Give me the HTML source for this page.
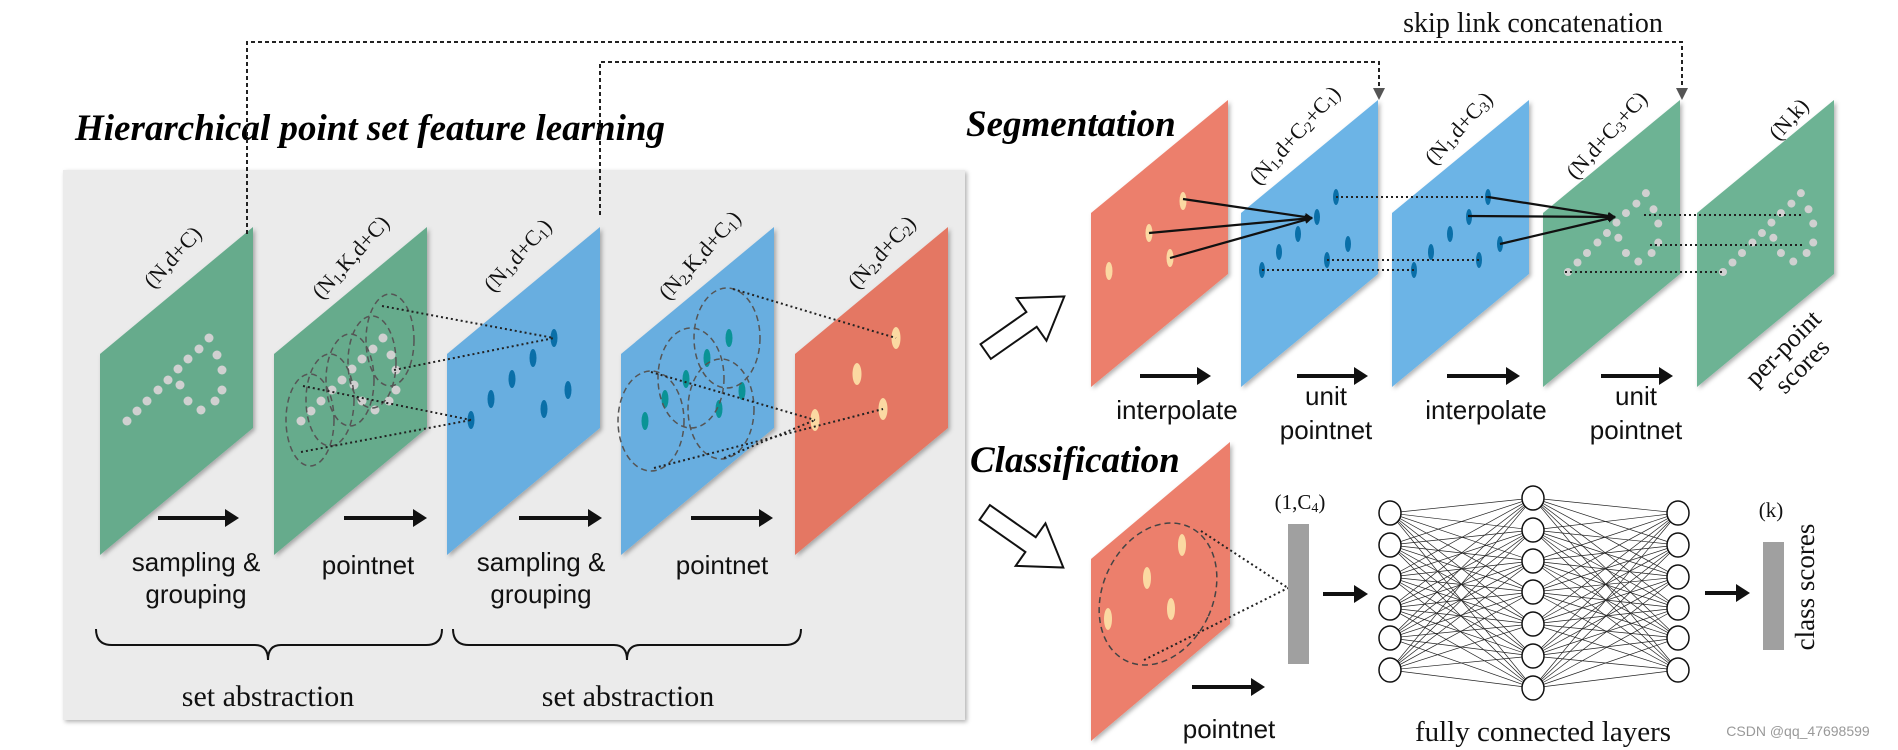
<!DOCTYPE html>
<html><head><meta charset="utf-8"><style>
html,body{margin:0;padding:0;background:#fff;width:1898px;height:750px;overflow:hidden}
svg{display:block}
.lab{font-family:"Liberation Serif",serif;font-size:22px;fill:#111}
.sans{font-family:"Liberation Sans",sans-serif;font-size:26px;fill:#111}
.ser{font-family:"Liberation Serif",serif;font-size:30px;fill:#111}
.ttl{font-family:"Liberation Serif",serif;font-size:37px;font-weight:bold;font-style:italic;fill:#000}
</style></head><body>
<svg id="s" width="1898" height="750" viewBox="0 0 1898 750" xmlns="http://www.w3.org/2000/svg">
<defs>
<marker id="ah" markerWidth="8" markerHeight="8" refX="7" refY="4" orient="auto" markerUnits="userSpaceOnUse"><path d="M0,0 L8,4 L0,8 z" fill="#111"/></marker>
<marker id="ad" markerWidth="12" markerHeight="12" refX="10" refY="6" orient="auto" markerUnits="userSpaceOnUse"><path d="M0,0 L12,6 L0,12 z" fill="#555"/></marker>
<filter id="sh"><feDropShadow dx="2" dy="2" stdDeviation="2" flood-opacity="0.3"/></filter>
</defs>
<rect x="63" y="170" width="902" height="550" fill="#ebebeb" filter="url(#sh)"/>
<text class="ttl" x="75" y="140">Hierarchical point set feature learning</text>
<text class="ttl" x="966" y="136">Segmentation</text>
<text class="ttl" x="970" y="472">Classification</text>
<g id="g"></g>
<polyline points="247,234 247,42 1682,42 1682,98" fill="none" stroke="#222" stroke-width="2" stroke-dasharray="4,3" marker-end="url(#ad)"/>
<polyline points="600,215 600,62 1379,62 1379,98" fill="none" stroke="#222" stroke-width="2" stroke-dasharray="4,3" marker-end="url(#ad)"/>
<text class="ser" x="1533" y="32" text-anchor="middle" style="font-size:28px">skip link concatenation</text>
<g class="lab">
<text transform="translate(178,262) rotate(-48)" text-anchor="middle">(N,d+C)</text>
<text transform="translate(356,262) rotate(-48)" text-anchor="middle">(N<tspan font-size="15" dy="3">1</tspan><tspan dy="-3">,K,d+C)</tspan></text>
<text transform="translate(523,260) rotate(-48)" text-anchor="middle">(N<tspan font-size="15" dy="3">1</tspan><tspan dy="-3">,d+C</tspan><tspan font-size="15" dy="3">1</tspan><tspan dy="-3">)</tspan></text>
<text transform="translate(705,260) rotate(-48)" text-anchor="middle">(N<tspan font-size="15" dy="3">2</tspan><tspan dy="-3">,K,d+C</tspan><tspan font-size="15" dy="3">1</tspan><tspan dy="-3">)</tspan></text>
<text transform="translate(887,257) rotate(-48)" text-anchor="middle">(N<tspan font-size="15" dy="3">2</tspan><tspan dy="-3">,d+C</tspan><tspan font-size="15" dy="3">2</tspan><tspan dy="-3">)</tspan></text>
<text transform="translate(1300,140) rotate(-48)" text-anchor="middle">(N<tspan font-size="15" dy="3">1</tspan><tspan dy="-3">,d+C</tspan><tspan font-size="15" dy="3">2</tspan><tspan dy="-3">+C</tspan><tspan font-size="15" dy="3">1</tspan><tspan dy="-3">)</tspan></text>
<text transform="translate(1464,133) rotate(-48)" text-anchor="middle">(N<tspan font-size="15" dy="3">1</tspan><tspan dy="-3">,d+C</tspan><tspan font-size="15" dy="3">3</tspan><tspan dy="-3">)</tspan></text>
<text transform="translate(1612,140) rotate(-48)" text-anchor="middle">(N,d+C<tspan font-size="15" dy="3">3</tspan><tspan dy="-3">+C)</tspan></text>
<text transform="translate(1794,124) rotate(-48)" text-anchor="middle">(N,k)</text>
</g>
<g class="sans" text-anchor="middle">
<text x="196" y="571">sampling &amp;</text><text x="196" y="603">grouping</text>
<text x="368" y="574">pointnet</text>
<text x="541" y="571">sampling &amp;</text><text x="541" y="603">grouping</text>
<text x="722" y="574">pointnet</text>
<text x="1177" y="419">interpolate</text>
<text x="1326" y="405">unit</text><text x="1326" y="439">pointnet</text>
<text x="1486" y="419">interpolate</text>
<text x="1636" y="405">unit</text><text x="1636" y="439">pointnet</text>
<text x="1229" y="738">pointnet</text>
</g>
<g class="ser" text-anchor="middle">
<text x="268" y="706">set abstraction</text>
<text x="628" y="706">set abstraction</text>
<text x="1543" y="741" style="font-size:29px">fully connected layers</text>
<text transform="translate(1789,354) rotate(-45)" style="font-size:26px">per-point</text>
<text transform="translate(1808,372) rotate(-45)" style="font-size:26px">scores</text>
<text transform="translate(1814,587) rotate(-90)" style="font-size:27px">class scores</text>
<text x="1300" y="509" style="font-size:21px">(1,C<tspan font-size="14" dy="3">4</tspan><tspan dy="-3">)</tspan></text>
<text x="1771" y="517" style="font-size:21px">(k)</text>
</g>
<text x="1798" y="736" text-anchor="middle" style="font-family:'Liberation Sans',sans-serif;font-size:14px;fill:#999">CSDN @qq_47698599</text>
<path d="M96,629 Q96,645 112,645 L255,645 Q268,645 268,660 Q268,645 281,645 L426,645 Q442,645 442,629" fill="none" stroke="#111" stroke-width="2"/>
<path d="M453,629 Q453,645 469,645 L614,645 Q627,645 627,660 Q627,645 640,645 L785,645 Q801,645 801,629" fill="none" stroke="#111" stroke-width="2"/>
</svg>
<script>
const g=document.getElementById('g');const NS='http://www.w3.org/2000/svg';
function el(t,a){const e=document.createElementNS(NS,t);for(const k in a)e.setAttribute(k,a[k]);g.appendChild(e);return e;}
function plane(x,w,skew,yt,h,c){el('polygon',{points:`${x},${yt+skew} ${x+w},${yt} ${x+w},${yt+h} ${x},${yt+skew+h}`,fill:c,filter:'url(#sh)'});}
function arrow(x1,x2,y){el('line',{x1:x1,y1:y,x2:x2-12,y2:y,stroke:'#111','stroke-width':4});el('polygon',{points:`${x2-14},${y-9} ${x2},${y} ${x2-14},${y+9}`,fill:'#111'});}
const G='#66ab8c',B='#68aee0',R='#e47763';
[[100,G],[274,G],[447,B],[621,B],[795,R]].forEach(([x,c])=>plane(x,153,127,227,201,c));
const pat=[[127,421],[137,411],[147,401],[158,390],[168,380],[178,369],[188,359],[199,349],[209,338],[217,355],[222,370],[222,390],[215,401],[201,410],[188,401],[180,385]];
pat.forEach(([x,y])=>{el('ellipse',{cx:x,cy:y,rx:4.5,ry:4.5,fill:'#d0d0d0'});el('ellipse',{cx:x+174,cy:y,rx:4.5,ry:4.5,fill:'#d0d0d0'});});
[[310,420],[330,400],[350,380],[372,362],[390,340]].forEach(([x,y])=>el('ellipse',{cx:x,cy:y,rx:24,ry:46,fill:'none',stroke:'#555','stroke-width':1.5,'stroke-dasharray':'6,4'}));
const p3=[[554,338],[533,358],[512,379],[491,399],[471,420],[568,390],[544,409]];
p3.forEach(([x,y])=>el('ellipse',{cx:x,cy:y,rx:3.5,ry:9,fill:'#0a6fa8'}));
const p4=[[729,338],[707,358],[686,379],[665,399],[645,421],[742,391],[719,409]];
p4.forEach(([x,y])=>el('ellipse',{cx:x,cy:y,rx:3.5,ry:9,fill:'#0a9396'}));
[[727,338],[691,378],[651,421],[721,409]].forEach(([x,y])=>el('ellipse',{cx:x,cy:y,rx:33,ry:50,fill:'none',stroke:'#555','stroke-width':1.5,'stroke-dasharray':'6,4'}));
const p5=[[896,338],[857,374],[883,409],[815,420]];
p5.forEach(([x,y])=>el('ellipse',{cx:x,cy:y,rx:4.5,ry:11,fill:'#fbd9a2'}));
const dl=(a,b,c,d)=>el('line',{x1:a,y1:b,x2:c,y2:d,stroke:'#222','stroke-width':2,'stroke-dasharray':'2,3'});
dl(382,306,554,338);dl(394,370,554,338);dl(303,386,471,420);dl(301,452,471,420);
dl(733,289,896,338);dl(651,372,815,420);dl(654,468,883,409);dl(724,458,815,420);
arrow(158,239,518);arrow(344,427,518);arrow(519,602,518);arrow(691,773,518);
const sr='#ec7f6c',sb='#6cb4e6',sg='#6db394';
[[1091,sr],[1241,sb],[1392,sb],[1543,sg],[1697,sg]].forEach(([x,c])=>plane(x,137,113,100,174,c));
[[1183,201],[1149,233],[1170,258],[1109,271]].forEach(([x,y])=>el('ellipse',{cx:x,cy:y,rx:3.5,ry:9,fill:'#fbd9a2'}));
const b1=[[1336,197],[1317,217],[1298,234],[1279,252],[1348,244],[1327,260],[1262,270]];
b1.forEach(([x,y])=>{el('ellipse',{cx:x,cy:y,rx:3,ry:8,fill:'#0a6fa8'});el('ellipse',{cx:x+152,cy:y,rx:3,ry:8,fill:'#0a6fa8'});});
dl(1336,197,1488,197);dl(1327,260,1479,260);dl(1262,270,1414,270);
pat.forEach(([x,y])=>{const X=1568+(x-127)*0.95,Y=272+(y-421)*0.95;el('circle',{cx:X,cy:Y,r:4,fill:'#d0d0d0'});el('circle',{cx:X+155,cy:Y,r:4,fill:'#d0d0d0'});});
dl(1644,215,1804,215);dl(1650,245,1804,245);dl(1565,272,1723,272);
const sl=(a,b,c,d)=>el('line',{x1:a,y1:b,x2:c,y2:d,stroke:'#111','stroke-width':2.2,'marker-end':'url(#ah)'});
sl(1183,199,1312,218);sl(1149,233,1312,218);sl(1170,258,1312,218);
sl(1488,197,1615,217);sl(1468,216,1615,217);sl(1500,244,1615,217);
arrow(1140,1211,376);arrow(1297,1368,376);arrow(1447,1520,376);arrow(1601,1673,376);
function hollow(cx,cy,ang){el('polygon',{points:'-48,-9 8,-9 8,-26 48,0 8,26 8,9 -48,9',fill:'#fff',stroke:'#111','stroke-width':2,transform:`translate(${cx},${cy}) rotate(${ang})`});}
hollow(1025,324,-35);hollow(1024,540,35);
plane(1091,139,117,442,182,sr);
el('ellipse',{cx:1158,cy:594,rx:55,ry:74,fill:'none',stroke:'#444','stroke-width':1.5,'stroke-dasharray':'6,4',transform:'rotate(25 1158 594)'});
[[1182,545],[1147,578],[1171,609],[1108,619]].forEach(([x,y])=>el('ellipse',{cx:x,cy:y,rx:4,ry:11,fill:'#fbd9a2'}));
dl(1201,531,1288,588);dl(1144,660,1288,588);
el('rect',{x:1288,y:524,width:21,height:140,fill:'#a0a0a0'});
arrow(1323,1368,594);arrow(1192,1265,687);
const L1=[513,545,577,608,638,670],L2=[498,530,561,592,624,656,688];
L1.forEach(a=>L2.forEach(b=>{el('line',{x1:1390,y1:a,x2:1533,y2:b,stroke:'#222','stroke-width':0.7});el('line',{x1:1533,y1:b,x2:1678,y2:a,stroke:'#222','stroke-width':0.7});}));
L1.forEach(y=>{el('ellipse',{cx:1390,cy:y,rx:11,ry:12,fill:'#fff',stroke:'#111','stroke-width':1.5});el('ellipse',{cx:1678,cy:y,rx:11,ry:12,fill:'#fff',stroke:'#111','stroke-width':1.5});});
L2.forEach(y=>el('ellipse',{cx:1533,cy:y,rx:11,ry:12,fill:'#fff',stroke:'#111','stroke-width':1.5}));
arrow(1705,1750,593);
el('rect',{x:1763,y:542,width:21,height:108,fill:'#a0a0a0'});
</script>
</body></html>
